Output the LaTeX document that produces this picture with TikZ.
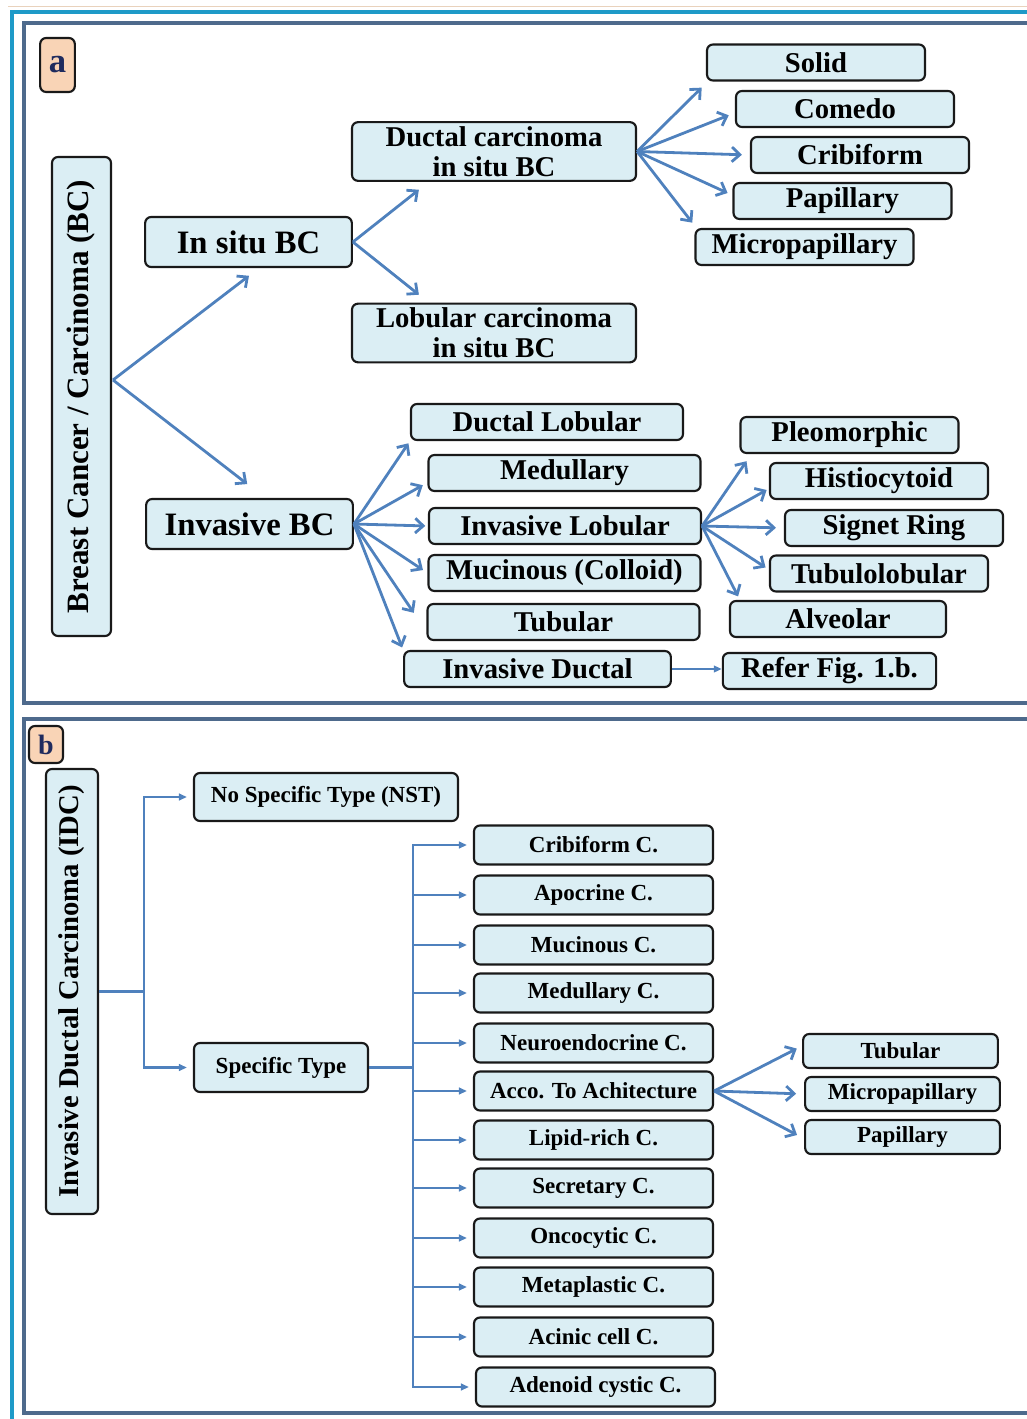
\documentclass[tikz,border=0pt]{standalone}
\usepackage{fontspec}
\setmainfont{Liberation Serif}
\usetikzlibrary{arrows.meta}

\definecolor{boxfill}{HTML}{DBEEF4}
\definecolor{arrblue}{HTML}{4F81BD}
\definecolor{framecyan}{HTML}{1E9AC8}
\definecolor{panelline}{HTML}{4E6A8C}
\definecolor{labelfill}{HTML}{F9D4B6}
\definecolor{labeltext}{HTML}{1F2B5E}

\begin{document}
\begin{tikzpicture}[x=0.75pt,y=-0.75pt,
	box/.style={draw=black!90, line width=1.6pt, rounded corners=4.5pt, fill=boxfill, inner sep=0pt, align=center},
	tag/.style={box, fill=labelfill, text=labeltext},
	upright/.style={box, rotate=90},
	big/.style={box, minimum width=155pt, minimum height=37.5pt, font=\fontsize{24.5}{26}\selectfont\bfseries},
	twoline/.style={box, minimum width=213pt, minimum height=44pt, font=\fontsize{21.5}{22.5}\selectfont\bfseries},
	leaf/.style={box, minimum width=#1, minimum height=27pt, font=\fontsize{21.5}{23}\selectfont\bfseries},
	leaf/.default=163.5pt,
	cell/.style={box, minimum width=179.25pt, minimum height=29.25pt, font=\fontsize{17.25}{19}\selectfont\bfseries},
	small/.style={box, minimum width=146pt, minimum height=25.5pt, font=\fontsize{17.25}{19}\selectfont\bfseries},
	arr/.style={draw=arrblue, line width=2.1pt, -{Straight Barb[length=6pt,width=11pt]}},
	barr/.style={draw=arrblue, line width=1.6pt, -{Triangle[length=6pt,width=5pt]}},
	bline/.style={draw=arrblue, line width=1.6pt}]

	\useasboundingbox (0,0) rectangle (1026,1419);

	% frames
	\draw [brown!35, line width=0.6pt] (8,6) -- (1030,6);
	\draw [framecyan, line width=3pt] (12,1425) -- (12,12) -- (1030,12);
	\draw [panelline, line width=2.4pt] (24,23) rectangle (1034,703);
	\draw [panelline, line width=2.4pt] (24,719) rectangle (1034,1413);

	% panel a
	\node[tag, minimum width=26pt, minimum height=40.5pt, font=\fontsize{26}{26}\selectfont\bfseries] (labela) at (57.5,65) {a};
	\node[upright, minimum width=359.25pt, minimum height=44.25pt, font=\fontsize{23.3}{25}\selectfont\bfseries] (bc) at (81.5,396.5) {Breast Cancer / Carcinoma (BC)};

	\node[big] (insitu) at (248.5,242) {In situ BC};
	\node[big] (invbc) at (249.5,524) {Invasive BC};

	\node[twoline] (dcis) at (494,151.5) {Ductal carcinoma\\in situ BC};
	\node[twoline] (lcis) at (494,333) {Lobular carcinoma\\in situ BC};

	\node[leaf] (solid) at (816,62.5) {Solid};
	\node[leaf] (comedo) at (845,109) {Comedo};
	\node[leaf] (cribi) at (860,155) {Cribiform};
	\node[leaf] (papil) at (842.5,201) {Papillary};
	\node[leaf] (micro) at (804.5,247) {Micropapillary};

	\node[leaf=204pt] (dlob) at (547,422) {Ductal Lobular};
	\node[leaf=204pt] (medul) at (564.5,473) {Medullary};
	\node[leaf=204pt] (ilob) at (565,526) {Invasive Lobular};
	\node[leaf=204pt] (mucin) at (564.5,573) {Mucinous (Colloid)};
	\node[leaf=204pt] (tubul) at (563.5,622) {Tubular};
	\node[leaf=200pt] (iduct) at (537.5,669) {Invasive Ductal};

	\node[leaf] (pleo) at (849.5,435) {Pleomorphic};
	\node[leaf] (histio) at (879,481) {Histiocytoid};
	\node[leaf] (signet) at (894,528) {Signet Ring};
	\node[leaf] (tlob) at (879,573.5) {Tubulolobular};
	\node[leaf=162pt] (alveo) at (838,619) {Alveolar};
	\node[leaf=160pt] (refer) at (829.5,671) {Refer Fig. 1.b.};

	\coordinate (bcfork) at (113,380);
	\draw[arr, shorten >=9.5pt] (bcfork) -- (insitu.292);
	\draw[arr, shorten >=17pt] (bcfork) -- (invbc.59);

	\draw[arr, shorten >=9.5pt] (insitu.east) -- (dcis.205);
	\draw[arr, shorten >=9.5pt] (insitu.east) -- (lcis.155);

	\draw[arr, shorten >=6.5pt] (dcis.east) -- (solid.190);
	\draw[arr, shorten >=5pt] (dcis.east) -- (comedo.182);
	\draw[arr, shorten >=6pt] (dcis.east) -- (cribi.west);
	\draw[arr, shorten >=4pt] (dcis.east) -- (papil.177);
	\draw[arr, shorten >=5pt] (dcis.east) -- (micro.170);

	\draw[arr, shorten >=2pt] (invbc.east) -- (dlob.south west);
	\draw[arr, shorten >=4pt] (invbc.east) -- (medul.184);
	\draw[arr, shorten >=2pt] (invbc.east) -- (ilob.west);
	\draw[arr, shorten >=4pt] (invbc.east) -- (mucin.west);
	\draw[arr, shorten >=17pt] (invbc.east) -- (tubul.184);
	\draw[arr, shorten >=2pt] (invbc.east) -- (iduct.north west);

	\draw[arr, shorten >=6.5pt] (ilob.east) -- (pleo.191);
	\draw[arr, shorten >=2pt] (ilob.east) -- (histio.184);
	\draw[arr, shorten >=6pt] (ilob.east) -- (signet.west);
	\draw[arr, shorten >=3pt] (ilob.east) -- (tlob.178);
	\draw[arr, shorten >=3pt] (ilob.east) -- (alveo.169);

	\draw[barr] (iduct.east) -- (iduct.east -| refer.west);

	% panel b
	\node[tag, minimum width=25.5pt, minimum height=27.75pt, font=\fontsize{21}{21}\selectfont\bfseries] (labelb) at (46,744.5) {b};
	\node[upright, minimum width=333.75pt, minimum height=39pt, font=\fontsize{21.5}{23}\selectfont\bfseries] (idc) at (72,991.5) {Invasive Ductal Carcinoma (IDC)};

	\node[cell, minimum width=198pt, minimum height=36pt] (nst) at (326,797) {No Specific Type (NST)};
	\node[cell, minimum width=130.5pt, minimum height=36.75pt] (spec) at (281,1067.5) {Specific Type};

	\node[cell] (cribc) at (593.5,845) {Cribiform C.};
	\node[cell] (apoc) at (593.5,895) {Apocrine C.};
	\node[cell] (mucc) at (593.5,945) {Mucinous C.};
	\node[cell] (medc) at (593.5,993) {Medullary C.};
	\node[cell] (neuro) at (593.5,1043) {Neuroendocrine C.};
	\node[cell] (acco) at (593.5,1091) {Acco. To Achitecture};
	\node[cell] (lipid) at (593.5,1140) {Lipid-rich C.};
	\node[cell] (secr) at (593.5,1188) {Secretary C.};
	\node[cell] (onco) at (593.5,1238) {Oncocytic C.};
	\node[cell] (meta) at (593.5,1287) {Metaplastic C.};
	\node[cell] (acin) at (593.5,1337) {Acinic cell C.};
	\node[cell] (aden) at (595.5,1387) {Adenoid cystic C.};

	\node[small] (btub) at (900.5,1051) {Tubular};
	\node[small] (bmic) at (902.5,1094) {Micropapillary};
	\node[small] (bpap) at (902.5,1137) {Papillary};

	\coordinate (bfork) at (144,991.5);
	\draw[bline] (idc.south) -- (bfork);
	\draw[barr, shorten >=4.5pt] (bfork) |- (nst.west);
	\draw[barr, shorten >=4.5pt] (bfork) |- (spec.west);

	\coordinate (sfork) at (413,1067.5);
	\draw[bline] (spec.east) -- (sfork);
	\draw[barr, shorten >=4.5pt] (sfork) |- (cribc.west);
	\draw[barr, shorten >=4.5pt] (sfork) |- (apoc.west);
	\draw[barr, shorten >=4.5pt] (sfork) |- (mucc.west);
	\draw[barr, shorten >=4.5pt] (sfork) |- (medc.west);
	\draw[barr, shorten >=4.5pt] (sfork) |- (neuro.west);
	\draw[barr, shorten >=4.5pt] (sfork) |- (acco.west);
	\draw[barr, shorten >=4.5pt] (sfork) |- (lipid.west);
	\draw[barr, shorten >=4.5pt] (sfork) |- (secr.west);
	\draw[barr, shorten >=4.5pt] (sfork) |- (onco.west);
	\draw[barr, shorten >=4.5pt] (sfork) |- (meta.west);
	\draw[barr, shorten >=4.5pt] (sfork) |- (acin.west);
	\draw[barr, shorten >=4.5pt] (sfork) |- (aden.west);

	\draw[arr, shorten >=4.5pt] (acco.east) -- (btub.177);
	\draw[arr, shorten >=6pt] (acco.east) -- (bmic.west);
	\draw[arr, shorten >=6pt] (acco.east) -- (bpap.181);
\end{tikzpicture}
\end{document}
